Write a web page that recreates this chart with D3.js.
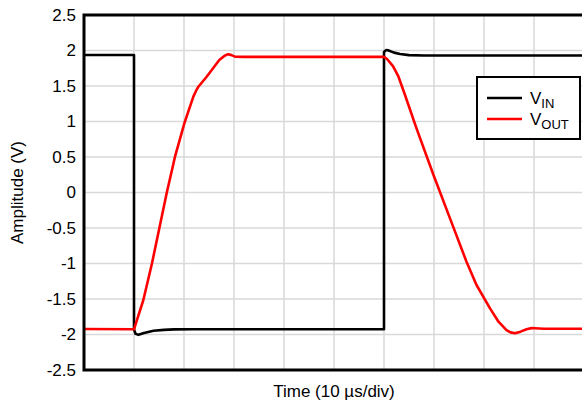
<!DOCTYPE html>
<html>
<head>
<meta charset="utf-8">
<script src="https://cdn.jsdelivr.net/npm/d3@7"></script>
<style>
  html, body { margin: 0; padding: 0; background: #fff; }
  svg { display: block; font-family: "Liberation Sans", Arial, Helvetica, sans-serif; }
</style>
</head>
<body>
<svg id="chart" width="582" height="408"></svg>
<script>
// ---- data (time in µs, amplitude in V) ----
const yTicks = [-2.5, -2, -1.5, -1, -0.5, 0, 0.5, 1, 1.5, 2, 2.5];
const yTickLabels = ["-2.5", "-2", "-1.5", "-1", "-0.5", "0", "0.5", "1", "1.5", "2", "2.5"];
const xGrid = [0, 10, 20, 30, 40, 50, 60, 70, 80, 90, 100];
const seriesNames = ["VIN", "VOUT"];
const seriesColors = ["#000000", "#ff0000"];

const vinTime = [0, 10, 10, 10.3, 10.9, 12, 13.9, 16, 18, 22, 30, 60, 60, 60.4, 60.8, 62, 63.2, 65, 68, 75, 100];
const vinVal  = [1.937, 1.937, -1.93, -1.99, -2.005, -1.98, -1.948, -1.935, -1.928, -1.925, -1.925, -1.925, 1.98, 2.005, 2.003, 1.97, 1.951, 1.935, 1.93, 1.93, 1.93];

const voutTime = [0, 10, 11.87, 13.6, 16.53, 18.2, 20.07, 21.87, 22.4, 22.87, 24.53, 25.06, 27.06, 28.0, 28.5, 28.86, 29.5, 30.2, 32, 60, 60.6, 61.8, 62.9, 64.2, 66.5, 69.9, 73.2, 76.5, 78.5, 81.2, 82.9, 84.5, 85.3, 86.2, 87.3, 88.5, 89.5, 90.2, 92, 100];
const voutVal  = [-1.922, -1.927, -1.514, -0.997, -0.011, 0.504, 0.975, 1.35, 1.43, 1.49, 1.63, 1.679, 1.866, 1.92, 1.94, 1.946, 1.935, 1.913, 1.91, 1.912, 1.88, 1.78, 1.631, 1.373, 0.904, 0.246, -0.364, -0.975, -1.303, -1.632, -1.82, -1.937, -1.97, -1.983, -1.96, -1.925, -1.91, -1.912, -1.92, -1.92];

const xTitle = "Time (10 µs/div)";
const yTitle = "Amplitude (V)";

// ---- layout ----
const svg = d3.select("#chart");
const pLeft = 84, pTop = 15, pRight = 584, pBottom = 370;
const x = d3.scaleLinear().domain([0, 100]).range([pLeft, pRight]);
const y = d3.scaleLinear().domain([-2.5, 2.5]).range([pBottom, pTop]);

// grid
svg.append("g").selectAll("line").data(xGrid).join("line")
  .attr("x1", d => x(d)).attr("x2", d => x(d))
  .attr("y1", pTop).attr("y2", pBottom)
  .attr("stroke", "#d9d9d9").attr("stroke-width", 1.5);
svg.append("g").selectAll("line").data(yTicks).join("line")
  .attr("x1", pLeft).attr("x2", pRight)
  .attr("y1", d => y(d)).attr("y2", d => y(d))
  .attr("stroke", "#d9d9d9").attr("stroke-width", 1.5);

// y axis labels
const yAxis = d3.axisLeft(y).tickValues(yTicks).tickSize(0).tickPadding(8)
  .tickFormat((d, i) => yTickLabels[i]);
const yg = svg.append("g").attr("transform", `translate(${pLeft},0)`).call(yAxis);
yg.select(".domain").remove();
yg.selectAll("text").attr("font-size", 17).attr("fill", "#000")
  .attr("font-family", "Liberation Sans, Arial, sans-serif");

// lines
svg.append("clipPath").attr("id", "clip").append("rect")
  .attr("x", pLeft).attr("y", pTop).attr("width", pRight - pLeft).attr("height", pBottom - pTop);

const vinData = vinTime.map((t, i) => [t, vinVal[i]]);
const voutData = voutTime.map((t, i) => [t, voutVal[i]]);

const lineLin = d3.line().x(d => x(d[0])).y(d => y(d[1])).curve(d3.curveLinear);

const plot = svg.append("g").attr("clip-path", "url(#clip)");
plot.append("path").datum(vinData).attr("d", lineLin)
  .attr("fill", "none").attr("stroke", seriesColors[0]).attr("stroke-width", 2.6)
  .attr("stroke-linejoin", "round");
plot.append("path").datum(voutData).attr("d", lineLin)
  .attr("fill", "none").attr("stroke", seriesColors[1]).attr("stroke-width", 2.6)
  .attr("stroke-linejoin", "round");

// frame
svg.append("rect").attr("x", pLeft).attr("y", pTop)
  .attr("width", pRight - pLeft).attr("height", pBottom - pTop)
  .attr("fill", "none").attr("stroke", "#000").attr("stroke-width", 3);

// titles
svg.append("text").attr("x", (pLeft + pRight) / 2).attr("y", 397)
  .attr("text-anchor", "middle").attr("font-size", 17).text(xTitle);
svg.append("text").attr("transform", `translate(23,${(pTop + pBottom) / 2}) rotate(-90)`)
  .attr("text-anchor", "middle").attr("font-size", 17).text(yTitle);

// legend
const lg = svg.append("g");
lg.append("rect").attr("x", 477).attr("y", 77).attr("width", 103).attr("height", 62)
  .attr("fill", "#fff").attr("stroke", "#000").attr("stroke-width", 2);
seriesNames.forEach((name, i) => {
  const ly = 98 + i * 21;
  lg.append("line").attr("x1", 487).attr("x2", 522).attr("y1", ly).attr("y2", ly)
    .attr("stroke", seriesColors[i]).attr("stroke-width", 2.6);
  const t = lg.append("text").attr("x", 530).attr("y", ly + 6).attr("font-size", 17);
  t.append("tspan").text(name[0]);
  t.append("tspan").attr("font-size", 13).attr("dy", 4).text(name.slice(1));
});
</script>
</body>
</html>
